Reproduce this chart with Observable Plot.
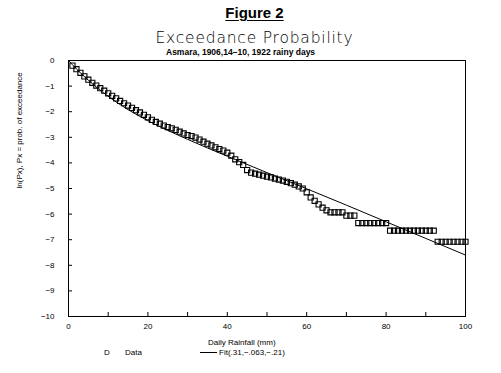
<!DOCTYPE html>
<html>
<head>
<meta charset="utf-8">
<script src="https://cdn.jsdelivr.net/npm/d3@7"></script>
<script src="https://cdn.jsdelivr.net/npm/@observablehq/plot@0.6"></script>
<style>
  html, body { margin: 0; padding: 0; background: #fff; }
  #wrap { position: relative; width: 501px; height: 373px; background: #fff; overflow: hidden; font-family: "Liberation Sans", Arial, sans-serif; color: #000; }
  .abs { position: absolute; white-space: nowrap; color: #000; }
  #fig { left: 4px; width: 501px; top: 5px; line-height: 16px; text-align: center; font-size: 15px; font-weight: bold; }
  #fig span { text-decoration: underline; text-underline-offset: 2px; }
  #ttl { left: 4px; width: 501px; top: 31px; line-height: 15px; text-align: center; font-family: "DejaVu Sans", sans-serif; font-weight: 200; font-size: 15.5px; letter-spacing: 0.8px; }
  #sub { left: 166px; top: 48px; line-height: 9px; font-size: 8.5px; font-weight: bold; }
  #chart { left: 0; top: 56px; }
  #xlab { left: 208px; top: 338px; line-height: 9px; font-size: 8px; }
  #legD { left: 104px; top: 348px; line-height: 9px; font-size: 8px; }
  #legData { left: 125px; top: 348px; line-height: 9px; font-size: 8px; }
  #legLine { left: 200px; top: 352px; width: 17px; height: 0; border-top: 1px solid #000; }
  #legFit { left: 219px; top: 348px; line-height: 9px; font-size: 8px; }
</style>
</head>
<body>
<div id="wrap">
  <div class="abs" id="fig"><span>Figure 2</span></div>
  <div class="abs" id="ttl">Exceedance Probability</div>
  <div class="abs" id="sub">Asmara, 1906,14−10, 1922 rainy days</div>
  <div class="abs" id="chart"></div>
  <div class="abs" id="xlab">Daily Rainfall (mm)</div>
  <div class="abs" id="legD">D</div>
  <div class="abs" id="legData">Data</div>
  <div class="abs" id="legLine"></div>
  <div class="abs" id="legFit">Fit(.31,−.063,−.21)</div>
</div>
<script>
// Observed data: daily rainfall (mm) and ln(exceedance probability)
const rainfall = [1,2,3,4,5,6,7,8,9,10,11,12,13,14,15,16,17,18,19,20,
  21,22,23,24,25,26,27,28,29,30,31,32,33,34,35,36,37,38,39,40,
  41,42,43,44,45,46,47,48,49,50,51,52,53,54,55,56,57,58,59,60,
  61,62,63,64,65,66,67,68,69,70,71,72,73,74,75,76,77,78,79,80,
  81,82,83,84,85,86,87,88,89,90,91,92,93,94,95,96,97,98,99,100];
const lnPx = [-0.20,-0.34,-0.48,-0.62,-0.75,-0.87,-0.98,-1.08,-1.18,-1.28,
  -1.38,-1.48,-1.58,-1.67,-1.76,-1.85,-1.94,-2.03,-2.12,-2.22,
  -2.32,-2.40,-2.47,-2.54,-2.60,-2.65,-2.71,-2.78,-2.85,-2.91,
  -2.95,-3.01,-3.09,-3.17,-3.25,-3.32,-3.39,-3.46,-3.52,-3.60,
  -3.72,-3.86,-3.97,-4.08,-4.28,-4.38,-4.42,-4.46,-4.50,-4.54,
  -4.57,-4.61,-4.65,-4.69,-4.74,-4.79,-4.85,-4.92,-5.00,-5.15,
  -5.35,-5.48,-5.62,-5.75,-5.85,-5.93,-5.93,-5.93,-5.93,-6.06,
  -6.06,-6.06,-6.35,-6.35,-6.35,-6.35,-6.35,-6.35,-6.35,-6.35,
  -6.65,-6.65,-6.65,-6.65,-6.65,-6.65,-6.65,-6.65,-6.65,-6.65,
  -6.65,-6.65,-7.08,-7.08,-7.08,-7.08,-7.08,-7.08,-7.08,-7.08];

// Fitted curve
const fitX = [0, 2, 5, 10, 15, 20, 30, 40, 50, 60, 70, 80, 90, 100];
const fitY = [0, -0.33, -0.77, -1.40, -1.92, -2.35, -3.08, -3.74, -4.38, -5.01, -5.65, -6.30, -6.95, -7.60];

// Axis ticks
const xTickMarks = [0, 10, 20, 30, 40, 50, 60, 70, 80, 90, 100];
const xTickLabels = [0, 20, 40, 60, 80, 100];
const yTicks = [0, -1, -2, -3, -4, -5, -6, -7, -8, -9, -10];
const yTitle = "ln(Px), Px = prob. of exceedance";

const points = rainfall.map((x, i) => ({x, y: lnPx[i]}));
const fit = fitX.map((x, i) => ({x, y: fitY[i]}));
const fmt = d => d < 0 ? "\u2212" + (-d) : String(d);

const chart = Plot.plot({
  width: 501,
  height: 290,
  marginLeft: 68,
  marginRight: 36,
  marginTop: 4,
  marginBottom: 30,
  style: {fontFamily: "'Liberation Sans', Arial, sans-serif", fontSize: "8px", background: "transparent", color: "#000"},
  x: {domain: [0, 100]},
  y: {domain: [-10, 0]},
  marks: [
    Plot.frame({stroke: "#000", strokeWidth: 1}),
    // inward tick marks
    Plot.axisX({ticks: xTickMarks, tickSize: 4, dy: -4, tickFormat: () => "", label: null}),
    Plot.axisY({ticks: yTicks, tickSize: 4, dx: 4, tickFormat: () => "", label: null}),
    // tick labels
    Plot.axisX({ticks: xTickLabels, tickSize: 0, tickPadding: 7, tickFormat: fmt, label: null}),
    Plot.axisY({ticks: yTicks, tickSize: 0, tickPadding: 14, tickFormat: fmt, label: null}),
    Plot.text([yTitle], {frameAnchor: "left", rotate: -90, dx: -49, fontSize: 8}),
    Plot.line(fit, {x: "x", y: "y", stroke: "#000", strokeWidth: 1, curve: "monotone-x"}),
    Plot.dot(points, {x: "x", y: "y", symbol: "square", r: 2.9, stroke: "#000", strokeWidth: 1.1, fill: "none"})
  ]
});
document.getElementById("chart").appendChild(chart);
</script>
</body>
</html>
